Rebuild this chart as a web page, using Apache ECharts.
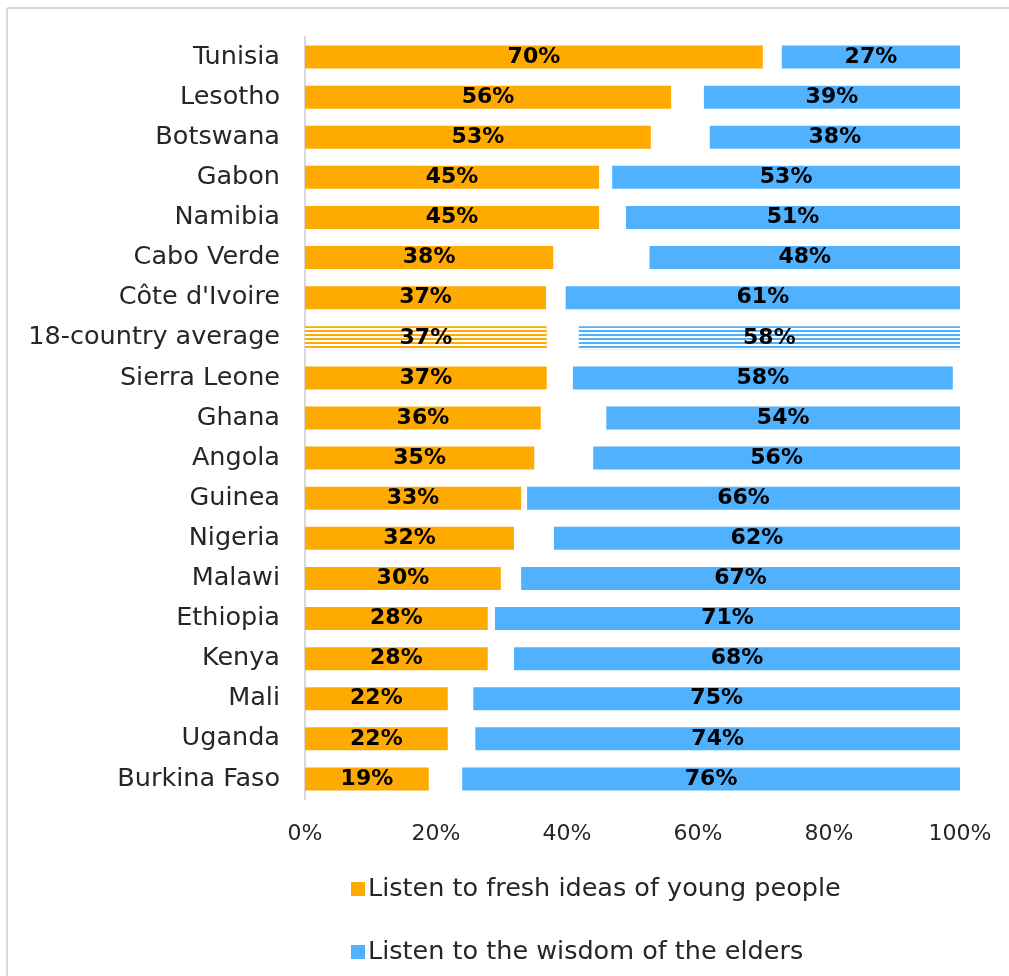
<!DOCTYPE html>
<html>
<head>
<meta charset="utf-8">
<script src="https://cdn.jsdelivr.net/npm/echarts@6/dist/echarts.min.js"></script>
<style>
html,body{margin:0;padding:0;background:#fff;overflow:hidden;}
#chart{width:1009px;height:976px;}
</style>
</head>
<body>
<div id="chart"></div>
<script>
const countries = ["Tunisia","Lesotho","Botswana","Gabon","Namibia","Cabo Verde","Côte d'Ivoire","18-country average","Sierra Leone","Ghana","Angola","Guinea","Nigeria","Malawi","Ethiopia","Kenya","Mali","Uganda","Burkina Faso"];
const young   = [69.9,55.9,52.8,44.9,44.9,37.9,36.8,36.9,36.9,36.0,35.0,33.0,31.9,29.9,27.9,27.9,21.8,21.8,18.9];
const neither = [ 2.9, 5.0, 9.0, 2.0, 4.1,14.7, 3.0, 4.9, 4.0,10.0, 9.0, 0.9, 6.1, 3.1, 1.1, 4.0, 3.9, 4.2, 5.1];
const elders  = [27.2,39.1,38.2,53.1,51.0,47.6,60.5,58.2,58.0,54.0,56.0,66.1,62.0,67.0,71.0,68.1,74.5,74.0,76.0];
const xTicks = [0,20,40,60,80,100];
const averageName = "18-country average";

const FONT = "DejaVu Sans";
const decal = {symbol:'rect', symbolSize:1, dashArrayX:[1,0], dashArrayY:[1.3,1.9], color:'#ffffff', rotation:0};
function build(arr){
  return arr.map((v,i)=> countries[i]===averageName ? {value:v, itemStyle:{decal:decal}} : v);
}
const chart = echarts.init(document.getElementById('chart'), null, {renderer:'canvas'});
const labelStyle = {show:true, position:'inside', color:'#000', fontFamily:FONT, fontWeight:'bold', fontSize:22,
  formatter:p=>Math.round(p.value)+'%'};
chart.setOption({
  animation:false,
  aria:{enabled:false, decal:{show:false}},
  graphic:[
    {type:'line', shape:{x1:7,y1:8,x2:1009,y2:8}, style:{stroke:'#d9d9d9', lineWidth:2}, silent:true},
    {type:'line', shape:{x1:7,y1:8,x2:7,y2:976}, style:{stroke:'#d9d9d9', lineWidth:2}, silent:true}
  ],
  grid:{left:305, right:49, top:37, bottom:177, containLabel:false},
  xAxis:{type:'value', min:xTicks[0], max:xTicks[xTicks.length-1], interval:20,
    axisLine:{show:false}, axisTick:{show:false}, splitLine:{show:false},
    axisLabel:{formatter:'{value}%', color:'#262626', fontFamily:FONT, fontSize:22, margin:24}},
  yAxis:{type:'category', data:countries, inverse:true,
    axisLine:{show:true, lineStyle:{color:'#d9d9d9', width:2}}, axisTick:{show:false},
    axisLabel:{color:'#262626', fontFamily:FONT, fontSize:25.5, margin:25}},
  legend:{orient:'vertical', left:346, top:871, itemWidth:14, itemHeight:14, itemGap:37, icon:'rect',
    data:['Listen to fresh ideas of young people','Listen to the wisdom of the elders'],
    textStyle:{color:'#262626', fontFamily:FONT, fontSize:25.5, padding:[0,0,0,-2]}},
  series:[
    {name:'Listen to fresh ideas of young people', type:'bar', stack:'a', barWidth:23, data:build(young),
      itemStyle:{color:'#FFAA00'}, label:labelStyle},
    {name:'Neither', type:'bar', stack:'a', barWidth:23, data:neither, itemStyle:{color:'rgba(0,0,0,0)'}, label:{show:false}, silent:true},
    {name:'Listen to the wisdom of the elders', type:'bar', stack:'a', barWidth:23, data:build(elders),
      itemStyle:{color:'#50B2FF'}, label:labelStyle}
  ]
});
</script>
</body>
</html>
